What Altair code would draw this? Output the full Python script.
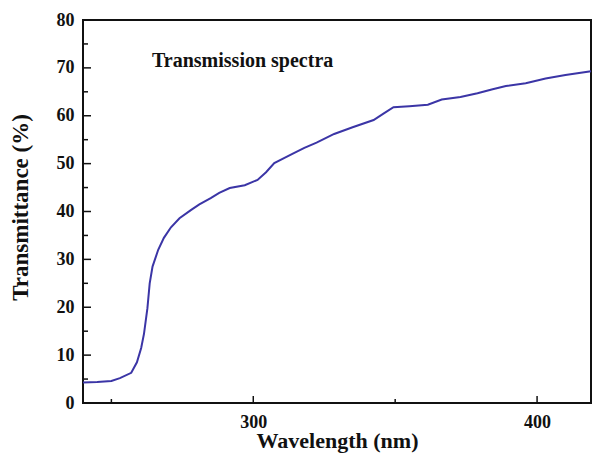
import altair as alt
import pandas as pd

wavelength = [240, 245, 250, 253, 257, 259, 260.5, 261.5, 262.7, 263.5, 264.5, 266.5,
              268.5, 271, 274, 278, 281, 285, 288, 291.7, 297, 301.5, 304.5, 307.4,
              311, 314.3, 318, 322.3, 328.5, 335, 342.4, 346, 349.4, 355, 361.5, 366.4,
              373, 379, 384, 389, 396, 403, 410, 419]
transmittance = [4.3, 4.4, 4.6, 5.2, 6.3, 8.5, 11.5, 14.5, 19.8, 25.0, 28.5, 32.0,
                 34.5, 36.7, 38.6, 40.3, 41.5, 42.8, 43.9, 44.9, 45.5, 46.6, 48.2, 50.1,
                 51.2, 52.2, 53.3, 54.4, 56.2, 57.6, 59.1, 60.5, 61.8, 62.0, 62.3, 63.4,
                 63.9, 64.7, 65.5, 66.2, 66.8, 67.8, 68.5, 69.3]

y_major = [0, 10, 20, 30, 40, 50, 60, 70, 80]
y_minor = [5, 15, 25, 35, 45, 55, 65, 75]
x_major = [300, 400]
x_minor = [250, 350]
x_labels = [300, 400]

annotation_text = ["Transmission spectra"]
annotation_x = [264.3]
annotation_y = [70.2]

FONT = "Liberation Serif"
W, H = 508, 383

df = pd.DataFrame({"wl": wavelength, "t": transmittance})
xs = alt.Scale(domain=[240, 419], nice=False, zero=False)
ys = alt.Scale(domain=[0, 80], nice=False)

line = alt.Chart(df).mark_line(color="#3b35a6", strokeWidth=2).encode(
    x=alt.X("wl:Q", scale=xs, axis=alt.Axis(
        values=x_labels, title="Wavelength (nm)", grid=False, ticks=False, tickSize=0,
        domain=False, labelPadding=10, labelFont=FONT, labelFontSize=18,
        labelFontWeight="bold", labelColor="#111", titleFont=FONT, titleFontSize=22,
        titleFontWeight="bold", titleColor="#111", titleBaseline="alphabetic",
        titleY=44)),
    y=alt.Y("t:Q", scale=ys, axis=alt.Axis(
        values=y_major, title="Transmittance (%)", grid=False, ticks=False, tickSize=0,
        domain=False, labelPadding=9, labelFont=FONT, labelFontSize=18,
        labelFontWeight="bold", labelColor="#111", titleFont=FONT, titleFontSize=23,
        titleFontWeight="bold", titleColor="#111", titleBaseline="alphabetic",
        titleX=-56, titleY=187)),
)

def yticks(vals, length):
    return alt.Chart(pd.DataFrame({"v": vals})).mark_rule(color="#111", strokeWidth=1.5).encode(
        y=alt.Y("v:Q", scale=ys), x=alt.value(0), x2=alt.value(length))

def xticks(vals, length):
    return alt.Chart(pd.DataFrame({"v": vals})).mark_rule(color="#111", strokeWidth=1.5).encode(
        x=alt.X("v:Q", scale=xs), y=alt.value(H), y2=alt.value(H - length))

ann = alt.Chart(pd.DataFrame({"x": annotation_x, "y": annotation_y, "s": annotation_text})).mark_text(
    align="left", baseline="alphabetic", font=FONT, fontSize=20, fontWeight="bold", color="#111"
).encode(x=alt.X("x:Q", scale=xs), y=alt.Y("y:Q", scale=ys), text="s:N")

chart = alt.layer(
    line, yticks(y_major, 8), yticks(y_minor, 5), xticks(x_major, 7), xticks(x_minor, 4), ann
).properties(
    width=W, height=H,
    autosize=alt.AutoSizeParams(type="none"),
    padding={"left": 75, "top": 12, "right": 1, "bottom": 54},
    background="white",
).configure_view(stroke="#111", strokeWidth=2)

chart.save("out.html", embed_options={"renderer": "svg", "actions": False})
